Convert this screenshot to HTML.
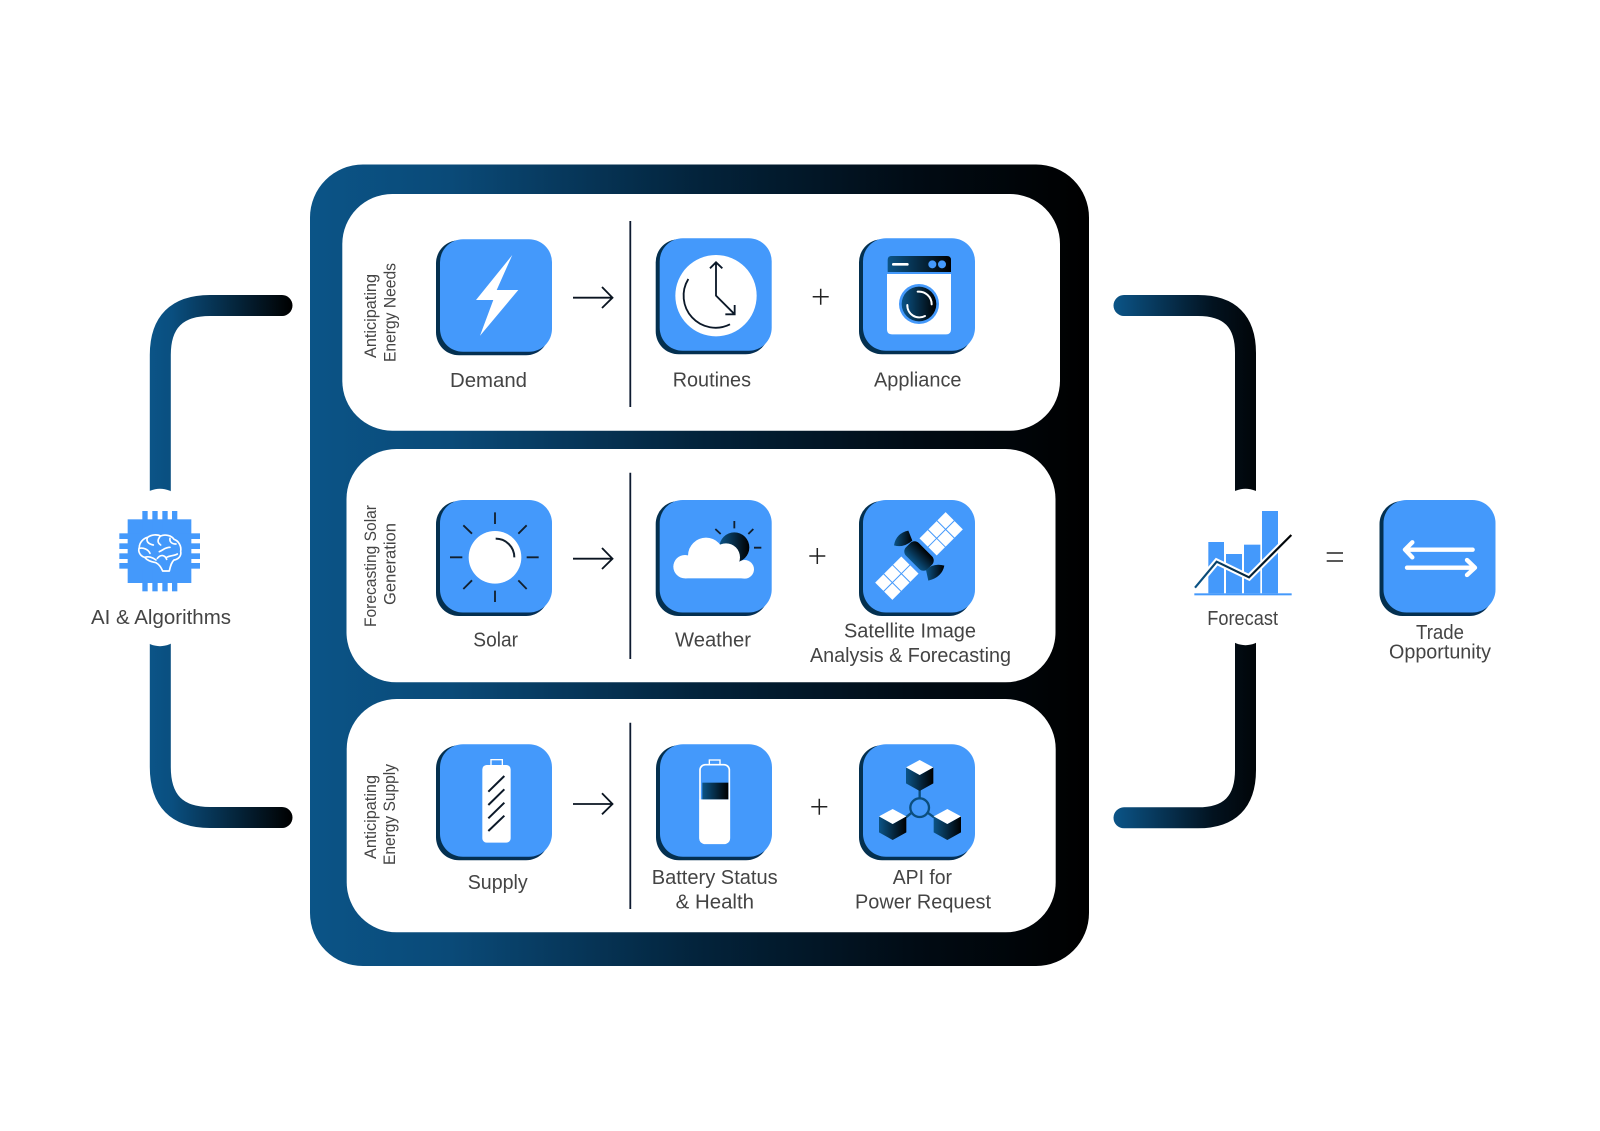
<!DOCTYPE html>
<html lang="en">
<head>
<meta charset="utf-8">
<title>Energy Forecast Diagram</title>
<style>
html,body{margin:0;padding:0;background:#fff}
svg{display:block}
text{font-family:"Liberation Sans",sans-serif;fill:#444;font-size:20px}
.s{font-size:17px}
</style>
</head>
<body>
<svg xmlns="http://www.w3.org/2000/svg" width="1600" height="1131" viewBox="0 0 1600 1131">
<defs>
<linearGradient id="fr" gradientUnits="userSpaceOnUse" x1="310" y1="0" x2="1089" y2="0">
<stop offset="0" stop-color="#0b5487"/><stop offset=".18" stop-color="#0a4a78"/><stop offset=".5" stop-color="#03233b"/><stop offset=".78" stop-color="#010b14"/><stop offset="1" stop-color="#000"/>
</linearGradient>
<linearGradient id="bl" gradientUnits="userSpaceOnUse" x1="150" y1="0" x2="292" y2="0">
<stop offset="0" stop-color="#0b5487"/><stop offset=".15" stop-color="#0a4f80"/><stop offset="1" stop-color="#000"/>
</linearGradient>
<linearGradient id="br" gradientUnits="userSpaceOnUse" x1="1114" y1="0" x2="1256" y2="0">
<stop offset="0" stop-color="#0b5487"/><stop offset=".7" stop-color="#02121f"/><stop offset="1" stop-color="#010508"/>
</linearGradient>
<linearGradient id="g"><stop offset="0" stop-color="#0b5487"/><stop offset="1" stop-color="#000"/></linearGradient>
<linearGradient id="sh"><stop offset="0" stop-color="#04304f"/><stop offset="1" stop-color="#052f55"/></linearGradient>
<g id="tile">
<rect x="0" y="1" width="113" height="115" rx="23" fill="url(#sh)"/>
<rect x="4" y="0" width="112" height="112.500" rx="23" fill="#4499fb"/>
</g>
</defs>

<!-- brackets -->
<path d="M282 305.500H210Q160.300 305.500 160.300 355V767Q160.300 817.500 210 817.500H282" fill="none" stroke="url(#bl)" stroke-width="21" stroke-linecap="round"/>
<path d="M1124 305.500H1198Q1245.500 305.500 1245.500 353V770Q1245.500 817.800 1198 817.800H1124" fill="none" stroke="url(#br)" stroke-width="21" stroke-linecap="round"/>
<rect x="135" y="488.700" width="50" height="157.500" rx="25" fill="#fff"/>
<rect x="1220.500" y="488.700" width="50" height="156.500" rx="25" fill="#fff"/>

<!-- frame and panels -->
<rect x="310" y="164.500" width="779" height="801.500" rx="53" fill="url(#fr)"/>
<rect x="342.300" y="194" width="717.700" height="236.700" rx="50" fill="#fff"/>
<rect x="346.500" y="449" width="709" height="233.300" rx="50" fill="#fff"/>
<rect x="346.700" y="699" width="709" height="233.300" rx="50" fill="#fff"/>

<!-- dividers -->
<g stroke="#0d1a30" stroke-width="1.800" fill="none">
<path d="M630.300 221V407M630.300 472.700V659M630.300 722.700V909"/>
</g>

<!-- arrows -->
<g stroke="#0a1420" stroke-width="1.800" fill="none">
<path d="M573 297.700H612M602 287L612.500 297.700L602 308"/>
<path d="M573 558.700H612M602 548L612.500 558.700L602 569"/>
<path d="M573 804H612M602 793.300L612.500 804L602 814.300"/>
</g>
<!-- plus and equals -->
<g stroke="#222" stroke-width="1.500" fill="none">
<path d="M812.700 296.700H828.700M820.700 288.700V304.700"/>
<path d="M809.300 556H825.300M817.300 548V564"/>
<path d="M811.300 806.700H827.300M819.300 798.700V814.700"/>
<path d="M1326.700 553H1343M1326.700 561H1343"/>
</g>

<!-- tiles -->
<use href="#tile" x="436" y="239.300"/>
<use href="#tile" x="655.700" y="238.300"/>
<use href="#tile" x="859" y="238.300"/>
<use href="#tile" x="436" y="500"/>
<use href="#tile" x="655.700" y="500"/>
<use href="#tile" x="859" y="500"/>
<use href="#tile" x="436" y="744.300"/>
<use href="#tile" x="656" y="744.300"/>
<use href="#tile" x="859" y="744.300"/>
<use href="#tile" x="1379.500" y="500"/>

<!-- bolt -->
<polygon points="512.300,255 476,300 493.300,300 480,335.700 518.300,290 496.700,290" fill="#fff"/>

<!-- clock + washer -->
<g transform="translate(620 210) scale(.33333)">
<circle cx="288" cy="257" r="122" fill="#fff"/>
<g fill="none" stroke="#0b1828" stroke-width="5.500">
<path d="M205 207A96 96 0 0 0 330 343"/>
<path d="M288 157V257L344 313M270 175L288 157L307 175M344 285V313H316"/>
</g>
<path d="M801 192H993V358Q993 373 978 373H816Q801 373 801 358Z" fill="#fff"/>
<path d="M803 186V150Q803 138 815 138H981Q993 138 993 150V186Z" fill="url(#g)"/>
<path d="M820 163H862" stroke="#fff" stroke-width="8" stroke-linecap="round"/>
<circle cx="937" cy="163" r="12" fill="#4499fb"/><circle cx="966" cy="163" r="12" fill="#4499fb"/>
<circle cx="897" cy="282" r="60" fill="#4499fb"/>
<circle cx="897" cy="282" r="52" fill="url(#g)"/>
<g fill="none" stroke="#fff" stroke-width="6" stroke-linecap="round">
<path d="M893 245A38 38 0 0 1 935 283"/>
<path d="M862 285A36 36 0 0 0 915 318"/>
</g>
</g>

<!-- sun -->
<g transform="translate(340 470) scale(.33333)">
<circle cx="465" cy="262" r="79" fill="#fff"/>
<g stroke="#12202e" stroke-width="5.500" fill="none">
<path d="M465 127V162M465 362V396M330 262H367M560 262H596M370 166L396 191M560 166L535 191M370 357L396 331M560 357L535 331"/>
<path d="M467 206A56 56 0 0 1 523 262" stroke-width="6"/>
</g>
</g>

<!-- weather + satellite -->
<g transform="translate(620 470) scale(.33333)">
<circle cx="343" cy="232" r="45" fill="url(#g)"/>
<g stroke="#12202e" stroke-width="5.500"><path d="M343 153V175M286 177L302 192M400 177L385 192M402 233H424"/></g>
<g fill="#fff">
<circle cx="195" cy="290" r="35"/>
<circle cx="258" cy="257" r="54"/>
<circle cx="318" cy="262" r="42"/>
<circle cx="374" cy="298" r="28"/>
<rect x="195" y="280" width="180" height="45"/>
</g>
<g transform="translate(897 258) rotate(-45)" fill="#fff">
<g transform="translate(94 0)">
<rect x="-55.500" y="-36.500" width="35" height="35"/><rect x="-17.500" y="-36.500" width="35" height="35"/><rect x="20.500" y="-36.500" width="35" height="35"/>
<rect x="-55.500" y="1.500" width="35" height="35"/><rect x="-17.500" y="1.500" width="35" height="35"/><rect x="20.500" y="1.500" width="35" height="35"/>
</g>
<g transform="translate(-94 0)">
<rect x="-55.500" y="-36.500" width="35" height="35"/><rect x="-17.500" y="-36.500" width="35" height="35"/><rect x="20.500" y="-36.500" width="35" height="35"/>
<rect x="-55.500" y="1.500" width="35" height="35"/><rect x="-17.500" y="1.500" width="35" height="35"/><rect x="20.500" y="1.500" width="35" height="35"/>
</g>
</g>
<rect x="-27" y="-46" width="54" height="92" rx="18" transform="translate(897 258) rotate(-45)" fill="url(#g)"/>
<path d="M865 182Q828 190 822 226Q850 235 877 212Z" fill="url(#g)"/>
<path d="M973 287Q966 322 925 332L918 300Q940 278 973 287Z" fill="url(#g)"/>
</g>

<!-- batteries -->
<g transform="translate(340 710) scale(.33333)">
<rect x="453" y="149" width="34" height="20" fill="none" stroke="#fff" stroke-width="4"/>
<rect x="427" y="165" width="85" height="233" rx="13" fill="#fff"/>
<g stroke="#0b1828" stroke-width="6"><path d="M445 245L493 198M445 285L493 238M445 325L493 278M445 363L493 317"/></g>
<rect x="1108" y="150" width="32" height="16" fill="none" stroke="#fff" stroke-width="4"/>
<rect x="1080" y="164" width="88" height="236" rx="16" fill="#4499fb" stroke="#fff" stroke-width="5"/>
<path d="M1078 268H1170V384Q1170 401 1153 401H1095Q1078 401 1078 384Z" fill="#fff"/>
<rect x="1087" y="218" width="78" height="50" fill="url(#g)"/>
</g>

<!-- API -->
<g transform="translate(780 710) scale(.33333)">
<g stroke="#0b4e7e" stroke-width="7" fill="none">
<circle cx="419" cy="293" r="28"/>
<path d="M419 240V265M378 322L395 308M443 308L462 322"/>
</g>
<polygon points="378,172 378,220 419,243 460,220 460,172 419,195" fill="url(#g)"/>
<polygon points="378,172 419,150 460,172 419,195" fill="#fff"/>
<g transform="translate(-81 147)">
<polygon points="378,172 378,220 419,243 460,220 460,172 419,195" fill="url(#g)"/>
<polygon points="378,172 419,150 460,172 419,195" fill="#fff"/>
</g>
<g transform="translate(83 147)">
<polygon points="378,172 378,220 419,243 460,220 460,172 419,195" fill="url(#g)"/>
<polygon points="378,172 419,150 460,172 419,195" fill="#fff"/>
</g>
</g>

<!-- chip -->
<g transform="translate(70 470) scale(.33333)">
<g fill="#4499fb">
<rect x="173" y="148" width="191" height="191"/>
<rect x="217" y="123" width="16" height="241"/><rect x="247" y="123" width="16" height="241"/><rect x="277" y="123" width="16" height="241"/><rect x="306" y="123" width="16" height="241"/>
<rect x="148" y="190" width="242" height="17"/><rect x="148" y="220" width="242" height="17"/><rect x="148" y="250" width="242" height="17"/><rect x="148" y="279" width="242" height="17"/>
</g>
<g fill="none" stroke="#fff" stroke-width="5" stroke-linejoin="round" stroke-linecap="round">
<path d="M278 303C272 290 268 284 258 278C245 276 232 272 224 262C210 258 203 244 208 232C208 218 220 205 233 202C245 193 262 193 272 198C285 192 305 196 312 208C325 212 335 228 332 244C335 258 325 268 312 270C305 276 302 285 298 303Z"/>
<path d="M232 204C228 215 236 222 250 225M270 200C262 210 262 218 272 225M300 205C298 215 305 222 318 222M208 235C220 232 235 238 240 250M225 262C235 258 248 262 258 270M262 265C272 252 285 255 290 268M290 262C300 256 312 258 322 252M268 245C280 240 285 232 300 232"/>
</g>
</g>

<!-- forecast and trade -->
<g transform="translate(1150 470) scale(.33333)">
<g fill="#4499fb">
<rect x="175" y="216" width="47" height="154"/><rect x="228" y="252" width="48" height="118"/><rect x="282" y="224" width="49" height="146"/><rect x="336" y="123" width="48" height="247"/>
<rect x="133" y="370" width="292" height="6"/>
</g>
<polyline points="135,353 200,275 297,322 424,195" fill="none" stroke="#fff" stroke-width="19"/>
<polyline points="135,353 200,275 297,322 424,195" fill="none" stroke="url(#g)" stroke-width="6.500"/>
<g fill="none" stroke="#fff" stroke-width="13" stroke-linecap="round" stroke-linejoin="round">
<path d="M968 239H768M787 217L765 239L787 262"/>
<path d="M771 293H972M951 270L975 293L951 315"/>
</g>
</g>

<!-- labels -->
<text x="450" y="387" textLength="77" lengthAdjust="spacingAndGlyphs">Demand</text>
<text x="672.700" y="386.700" textLength="78.300" lengthAdjust="spacingAndGlyphs">Routines</text>
<text x="874" y="386.700" textLength="87.500" lengthAdjust="spacingAndGlyphs">Appliance</text>
<text x="473.300" y="646.700" textLength="44.700" lengthAdjust="spacingAndGlyphs">Solar</text>
<text x="675" y="646.700" textLength="76" lengthAdjust="spacingAndGlyphs">Weather</text>
<text x="844" y="637.700" textLength="132" lengthAdjust="spacingAndGlyphs">Satellite Image</text>
<text x="810" y="662" textLength="201" lengthAdjust="spacingAndGlyphs">Analysis &amp; Forecasting</text>
<text x="467.700" y="889" textLength="60" lengthAdjust="spacingAndGlyphs">Supply</text>
<text x="651.700" y="884" textLength="126" lengthAdjust="spacingAndGlyphs">Battery Status</text>
<text x="675.700" y="908.500" textLength="78.300" lengthAdjust="spacingAndGlyphs">&amp; Health</text>
<text x="892.700" y="884" textLength="59.300" lengthAdjust="spacingAndGlyphs">API for</text>
<text x="855" y="908.500" textLength="136" lengthAdjust="spacingAndGlyphs">Power Request</text>
<text x="91" y="624" textLength="140" lengthAdjust="spacingAndGlyphs">AI &amp; Algorithms</text>
<text x="1207.300" y="625" textLength="70.700" lengthAdjust="spacingAndGlyphs">Forecast</text>
<text x="1416" y="639" textLength="48" lengthAdjust="spacingAndGlyphs">Trade</text>
<text x="1389" y="658.500" textLength="102" lengthAdjust="spacingAndGlyphs">Opportunity</text>

<text class="s" transform="translate(376 358) rotate(-90)" textLength="84" lengthAdjust="spacingAndGlyphs">Anticipating</text>
<text class="s" transform="translate(395.700 362) rotate(-90)" textLength="99" lengthAdjust="spacingAndGlyphs">Energy Needs</text>
<text class="s" transform="translate(376 627) rotate(-90)" textLength="122" lengthAdjust="spacingAndGlyphs">Forecasting Solar</text>
<text class="s" transform="translate(395.700 605) rotate(-90)" textLength="82" lengthAdjust="spacingAndGlyphs">Generation</text>
<text class="s" transform="translate(376 859) rotate(-90)" textLength="84" lengthAdjust="spacingAndGlyphs">Anticipating</text>
<text class="s" transform="translate(395 865) rotate(-90)" textLength="101" lengthAdjust="spacingAndGlyphs">Energy Supply</text>
</svg>
</body>
</html>
